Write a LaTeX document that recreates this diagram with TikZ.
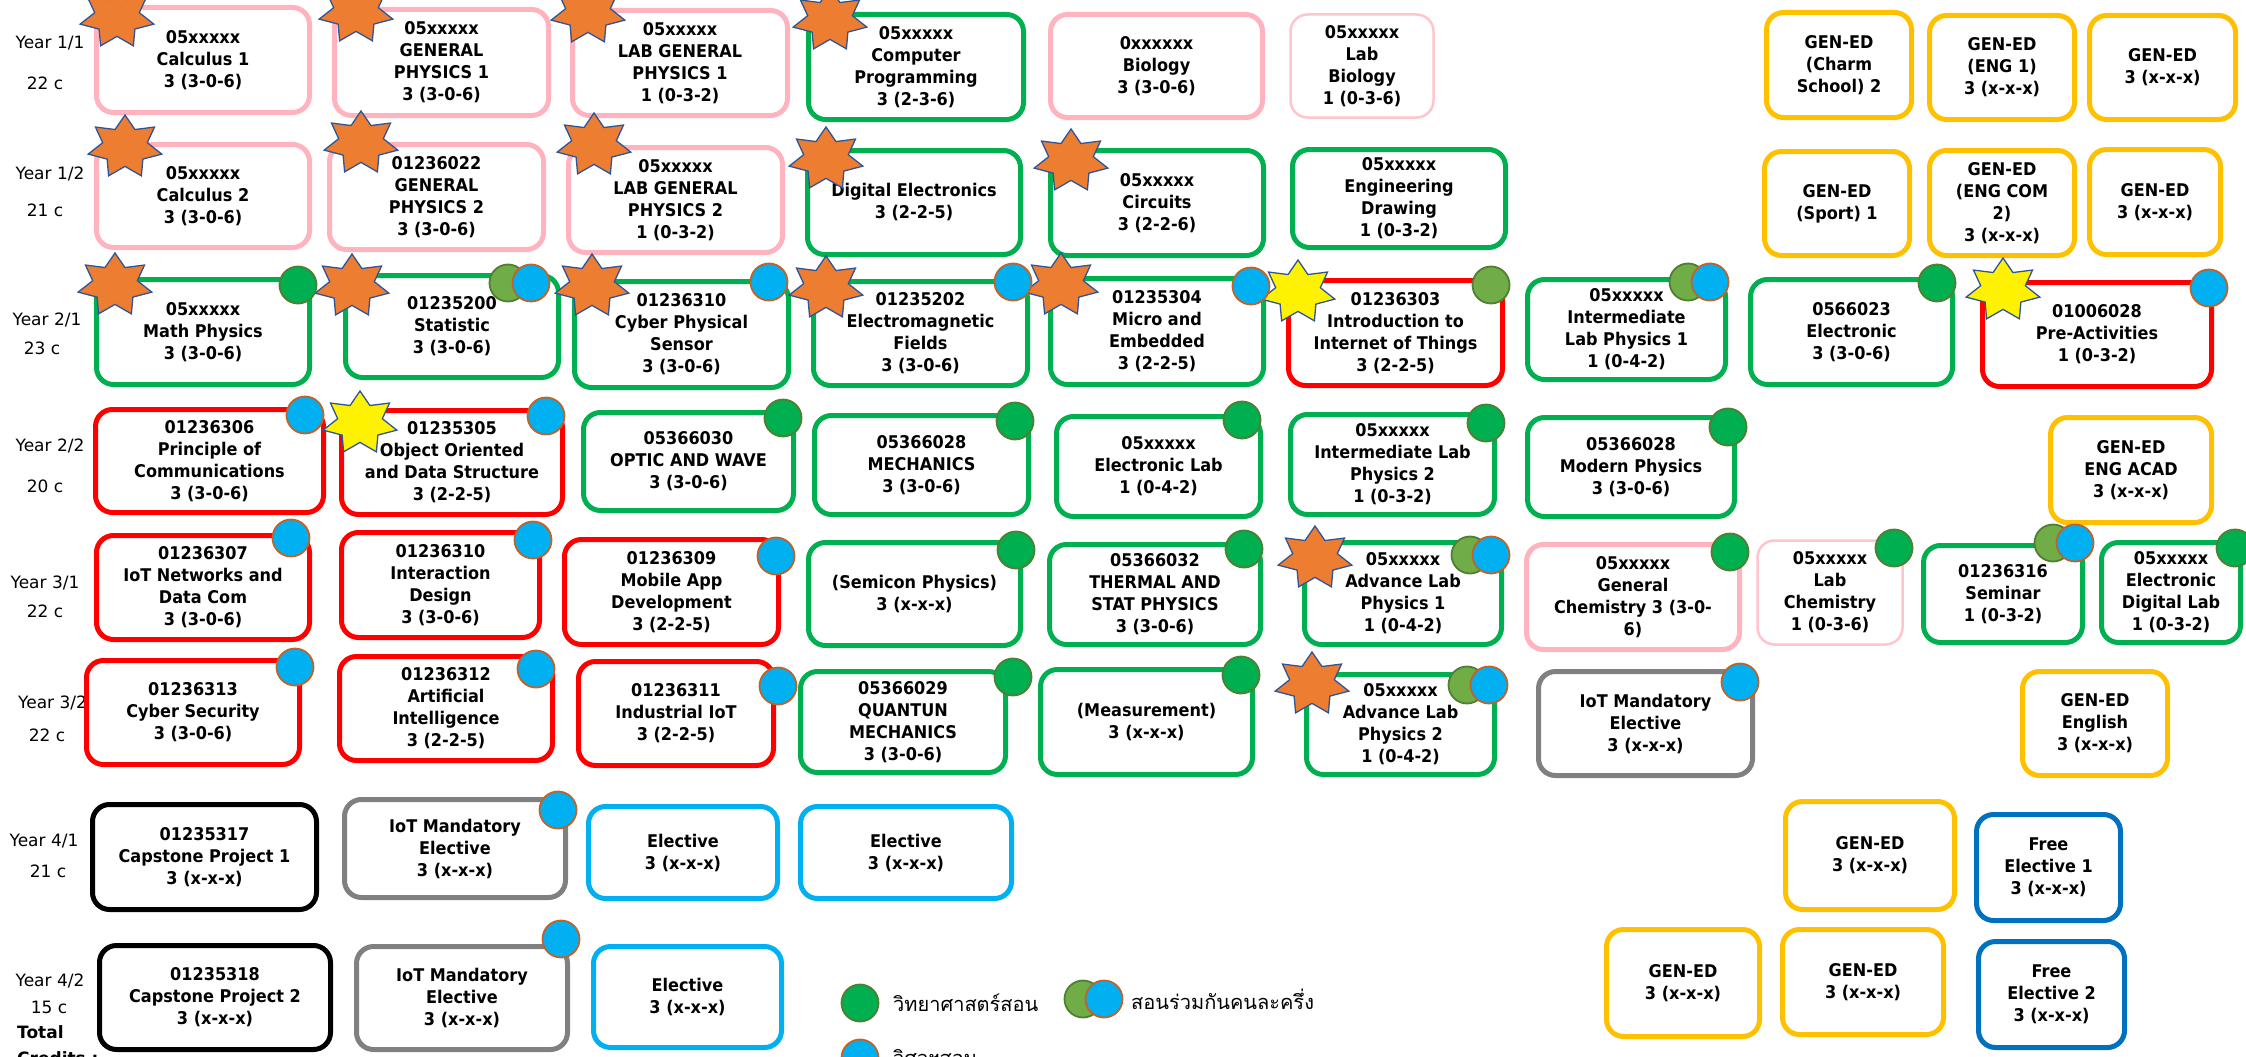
\documentclass[tikz,border=0pt]{standalone}
\usepackage{fontspec}
\setmainfont{DejaVu Sans}[FakeStretch=0.92]
\newfontfamily\lblfont{DejaVu Sans}
\newfontfamily\thaifont[Script=Thai]{Loma}
\usetikzlibrary{shapes.geometric}
\definecolor{cpink}{HTML}{FFB3BE}
\definecolor{cpinkl}{HTML}{FFC4CC}
\definecolor{cgreen}{HTML}{00B050}
\definecolor{cred}{HTML}{FF0000}
\definecolor{cgold}{HTML}{FFC000}
\definecolor{cgray}{HTML}{808080}
\definecolor{cltblue}{HTML}{00B0F0}
\definecolor{cdkblue}{HTML}{0070C0}
\definecolor{colive}{HTML}{70AD47}
\definecolor{colivedk}{HTML}{507E32}
\definecolor{cbrown}{HTML}{C0632A}
\definecolor{corange}{HTML}{ED7D31}
\definecolor{cstarb}{HTML}{2F5597}
\tikzset{
  crsbox/.style={rectangle, rounded corners=17pt, fill=white, line width=5pt, inner sep=0pt, align=center, font=\fontsize{17.5}{22}\selectfont\bfseries},
  pinkb/.style={crsbox, draw=cpink},
  pinkt/.style={crsbox, draw=cpinkl, line width=2.5pt},
  greenb/.style={crsbox, draw=cgreen},
  redb/.style={crsbox, draw=cred},
  goldb/.style={crsbox, draw=cgold},
  grayb/.style={crsbox, draw=cgray},
  blackb/.style={crsbox, draw=black},
  ltblueb/.style={crsbox, draw=cltblue},
  dkblueb/.style={crsbox, draw=cdkblue},
  dotbase/.style={circle, minimum size=37pt, inner sep=0pt, line width=1.8pt},
  gdot/.style={dotbase, fill=cgreen, draw=colivedk},
  bdot/.style={dotbase, fill=cltblue, draw=cbrown},
  odot/.style={dotbase, fill=colive, draw=colivedk},
  starbase/.style={star, star points=7, star point ratio=1.65, minimum size=64pt, inner sep=0pt, draw=cstarb, line width=1.3pt, transform shape},
  yearlbl/.style={font=\lblfont\fontsize{17}{21}\selectfont, inner sep=0pt},
  totlbl/.style={font=\lblfont\fontsize{17}{21}\selectfont\bfseries, inner sep=0pt, anchor=west},
  thailbl/.style={font=\thaifont\fontsize{20}{24}\selectfont, inner sep=0pt, anchor=west},
}
\newcommand\crs[7]{\node[#2, minimum width={#4-#3-5}, minimum height={#6-#5-5}] (#1) at ({(#3+#4)/2},{(#5+#6)/2}) {#7};}
\newcommand\starat[4]{\begin{scope}[shift={(#2,#3)}, xscale=1.18]\node[starbase, fill=#4] (#1) at (0,0) {};\end{scope}}
\begin{document}
\begin{tikzpicture}[x=1pt,y=-1pt]
\useasboundingbox (0,0) rectangle (2246,1057);
\clip (0,0) rectangle (2246,1057);
\fill[white] (0,0) rectangle (2246,1057);
% row labels
\node[yearlbl] (y11) at (50,43) {Year 1/1};
\node[yearlbl] (k11) at (45,83) {22 c};
\node[yearlbl] (y12) at (50,174) {Year 1/2};
\node[yearlbl] (k12) at (45,210) {21 c};
\node[yearlbl] (y21) at (47,320) {Year 2/1};
\node[yearlbl] (k21) at (42,348) {23 c};
\node[yearlbl] (y22) at (50,446) {Year 2/2};
\node[yearlbl] (k22) at (45,486) {20 c};
\node[yearlbl] (y31) at (45,583) {Year 3/1};
\node[yearlbl] (k31) at (45,611) {22 c};
\node[yearlbl, anchor=west] (y32) at (18,703) {Year 3/2};
\node[yearlbl] (k32) at (47,735) {22 c};
\node[yearlbl] (y41) at (44,841) {Year 4/1};
\node[yearlbl] (k41) at (48,871) {21 c};
\node[yearlbl] (y42) at (50,981) {Year 4/2};
\node[yearlbl] (k42) at (49,1007) {15 c};
\node[totlbl] (tot) at (17,1032) {Total};
\node[totlbl] (cred) at (17,1058) {Credits :};
% row 1
\crs{c11}{pinkb}{94}{312}{5}{115}{05xxxxx\\Calculus 1\\3 (3-0-6)}
\crs{c12}{pinkb}{332}{551}{7}{118}{05xxxxx\\GENERAL\\PHYSICS 1\\3 (3-0-6)}
\crs{c13}{pinkb}{570}{790}{8}{118}{05xxxxx\\LAB GENERAL\\PHYSICS 1\\1 (0-3-2)}
\crs{c14}{greenb}{806}{1026}{12}{122}{05xxxxx\\Computer\\Programming\\3 (2-3-6)}
\crs{c15}{pinkb}{1048}{1265}{12}{120}{0xxxxxx\\Biology\\3 (3-0-6)}
\crs{c16}{pinkt}{1288}{1436}{12}{120}{05xxxxx\\Lab\\Biology\\1 (0-3-6)}
\crs{c17}{goldb}{1764}{1914}{10}{120}{GEN-ED\\(Charm\\School) 2}
\crs{c18}{goldb}{1927}{2077}{13}{122}{GEN-ED\\(ENG 1)\\3 (x-x-x)}
\crs{c19}{goldb}{2087}{2238}{13}{122}{GEN-ED\\3 (x-x-x)}
% row 2
\crs{c21}{pinkb}{94}{312}{142}{250}{05xxxxx\\Calculus 2\\3 (3-0-6)}
\crs{c22}{pinkb}{327}{546}{142}{252}{01236022\\GENERAL\\PHYSICS 2\\3 (3-0-6)}
\crs{c23}{pinkb}{566}{785}{145}{255}{05xxxxx\\LAB GENERAL\\PHYSICS 2\\1 (0-3-2)}
\crs{c24}{greenb}{805}{1023}{148}{257}{Digital Electronics\\3 (2-2-5)}
\crs{c25}{greenb}{1048}{1266}{148}{258}{05xxxxx\\Circuits\\3 (2-2-6)}
\crs{c26}{greenb}{1290}{1508}{147}{250}{05xxxxx\\Engineering\\Drawing\\1 (0-3-2)}
\crs{c27}{goldb}{1762}{1912}{149}{258}{GEN-ED\\(Sport) 1}
\crs{c28}{goldb}{1927}{2077}{148}{258}{GEN-ED\\(ENG COM\\2)\\3 (x-x-x)}
\crs{c29}{goldb}{2087}{2223}{147}{257}{GEN-ED\\3 (x-x-x)}
% row 3
\crs{c31}{greenb}{94}{312}{277}{387}{05xxxxx\\Math Physics\\3 (3-0-6)}
\crs{c32}{greenb}{343}{561}{273}{380}{01235200\\Statistic\\3 (3-0-6)}
\crs{c33}{greenb}{572}{791}{279}{390}{01236310\\Cyber Physical\\Sensor\\3 (3-0-6)}
\crs{c34}{greenb}{811}{1030}{279}{388}{01235202\\Electromagnetic\\Fields\\3 (3-0-6)}
\crs{c35}{greenb}{1048}{1266}{276}{387}{01235304\\Micro and\\Embedded\\3 (2-2-5)}
\crs{c36}{redb}{1286}{1505}{278}{388}{01236303\\Introduction to\\Internet of Things\\3 (2-2-5)}
\crs{c37}{greenb}{1525}{1728}{277}{382}{05xxxxx\\Intermediate\\Lab Physics 1\\1 (0-4-2)}
\crs{c38}{greenb}{1748}{1955}{277}{387}{0566023\\Electronic\\3 (3-0-6)}
\crs{c39}{redb}{1980}{2214}{280}{389}{01006028\\Pre-Activities\\1 (0-3-2)}
% row 4
\crs{c41}{redb}{93}{326}{407}{515}{01236306\\Principle of\\Communications\\3 (3-0-6)}
\crs{c42}{redb}{339}{565}{408}{517}{01235305\\Object Oriented\\and Data Structure\\3 (2-2-5)}
\crs{c43}{greenb}{581}{796}{410}{513}{05366030\\OPTIC AND WAVE\\3 (3-0-6)}
\crs{c44}{greenb}{812}{1031}{413}{517}{05366028\\MECHANICS\\3 (3-0-6)}
\crs{c45}{greenb}{1054}{1263}{414}{519}{05xxxxx\\Electronic Lab\\1 (0-4-2)}
\crs{c46}{greenb}{1288}{1497}{412}{517}{05xxxxx\\Intermediate Lab\\Physics 2\\1 (0-3-2)}
\crs{c47}{greenb}{1525}{1737}{415}{519}{05366028\\Modern Physics\\3 (3-0-6)}
\crs{c48}{goldb}{2048}{2214}{415}{525}{GEN-ED\\ENG ACAD\\3 (x-x-x)}
% row 5
\crs{c51}{redb}{94}{312}{533}{642}{01236307\\IoT Networks and\\Data Com\\3 (3-0-6)}
\crs{c52}{redb}{339}{542}{530}{640}{01236310\\Interaction\\Design\\3 (3-0-6)}
\crs{c53}{redb}{562}{781}{537}{647}{01236309\\Mobile App\\Development\\3 (2-2-5)}
\crs{c54}{greenb}{806}{1023}{540}{648}{(Semicon Physics)\\3 (x-x-x)}
\crs{c55}{greenb}{1047}{1263}{542}{647}{05366032\\THERMAL AND\\STAT PHYSICS\\3 (3-0-6)}
\crs{c56}{greenb}{1302}{1504}{540}{647}{05xxxxx\\Advance Lab\\Physics 1\\1 (0-4-2)}
\crs{c57}{pinkb}{1524}{1742}{542}{652}{05xxxxx\\General\\Chemistry 3 (3-0-\\6)}
\crs{c58}{pinkt}{1755}{1905}{538}{647}{05xxxxx\\Lab\\Chemistry\\1 (0-3-6)}
\crs{c59}{greenb}{1921}{2085}{543}{645}{01236316\\Seminar\\1 (0-3-2)}
\crs{c5a}{greenb}{2099}{2243}{540}{645}{05xxxxx\\Electronic\\Digital Lab\\1 (0-3-2)}
% row 6
\crs{c61}{redb}{84}{302}{658}{767}{01236313\\Cyber Security\\3 (3-0-6)}
\crs{c62}{redb}{337}{555}{654}{763}{01236312\\Artificial\\Intelligence\\3 (2-2-5)}
\crs{c63}{redb}{576}{776}{659}{768}{01236311\\Industrial IoT\\3 (2-2-5)}
\crs{c64}{greenb}{798}{1008}{669}{775}{05366029\\QUANTUN\\MECHANICS\\3 (3-0-6)}
\crs{c65}{greenb}{1038}{1255}{667}{777}{(Measurement)\\3 (x-x-x)}
\crs{c66}{greenb}{1304}{1497}{672}{777}{05xxxxx\\Advance Lab\\Physics 2\\1 (0-4-2)}
\crs{c67}{grayb}{1536}{1755}{669}{778}{IoT Mandatory\\Elective\\3 (x-x-x)}
\crs{c68}{goldb}{2020}{2170}{669}{778}{GEN-ED\\English\\3 (x-x-x)}
% row 7
\crs{c71}{blackb}{90}{319}{802}{912}{01235317\\Capstone Project 1\\3 (x-x-x)}
\crs{c72}{grayb}{342}{568}{797}{900}{IoT Mandatory\\Elective\\3 (x-x-x)}
\crs{c73}{ltblueb}{586}{780}{804}{901}{Elective\\3 (x-x-x)}
\crs{c74}{ltblueb}{798}{1014}{804}{901}{Elective\\3 (x-x-x)}
\crs{c75}{goldb}{1783}{1957}{799}{912}{GEN-ED\\3 (x-x-x)}
\crs{c76}{dkblueb}{1974}{2123}{812}{923}{Free\\Elective 1\\3 (x-x-x)}
% row 8
\crs{c81}{blackb}{97}{333}{943}{1052}{01235318\\Capstone Project 2\\3 (x-x-x)}
\crs{c82}{grayb}{354}{570}{944}{1052}{IoT Mandatory\\Elective\\3 (x-x-x)}
\crs{c83}{ltblueb}{591}{784}{944}{1050}{Elective\\3 (x-x-x)}
\crs{c84}{goldb}{1604}{1762}{927}{1039}{GEN-ED\\3 (x-x-x)}
\crs{c85}{goldb}{1780}{1946}{927}{1037}{GEN-ED\\3 (x-x-x)}
\crs{c86}{dkblueb}{1976}{2127}{939}{1050}{Free\\Elective 2\\3 (x-x-x)}
% stars
\starat{s11}{117}{17}{corange}
\starat{s12}{356}{12}{corange}
\starat{s13}{588}{13}{corange}
\starat{s14}{830}{20}{corange}
\starat{s21}{125}{147}{corange}
\starat{s22}{361}{143}{corange}
\starat{s23}{594}{145}{corange}
\starat{s24}{826}{159}{corange}
\starat{s25}{1071}{161}{corange}
\starat{s31}{115}{285}{corange}
\starat{s32}{352}{286}{corange}
\starat{s33}{592}{286}{corange}
\starat{s34}{826}{288}{corange}
\starat{s35}{1061}{285}{corange}
\starat{s36}{1298}{292}{yellow}
\starat{s39}{2003}{290}{yellow}
\starat{s42}{360}{423}{yellow}
\starat{s56}{1315}{558}{corange}
\starat{s66}{1312}{684}{corange}
% dots
\node[gdot] (d31) at (298,285) {};
\node[odot] (d32o) at (508,283) {};
\node[bdot] (d32b) at (531,283) {};
\node[bdot] (d33) at (769,282) {};
\node[bdot] (d34) at (1013,282) {};
\node[bdot] (d35) at (1251,286) {};
\node[odot] (d36) at (1491,285) {};
\node[odot] (d37o) at (1688,282) {};
\node[bdot] (d37b) at (1710,282) {};
\node[gdot] (d38) at (1937,283) {};
\node[bdot] (d39) at (2209,288) {};
\node[bdot] (d41) at (305,415) {};
\node[bdot] (d42) at (546,416) {};
\node[gdot] (d43) at (783,418) {};
\node[gdot] (d44) at (1015,421) {};
\node[gdot] (d45) at (1242,420) {};
\node[gdot] (d46) at (1486,423) {};
\node[gdot] (d47) at (1728,427) {};
\node[bdot] (d51) at (291,538) {};
\node[bdot] (d52) at (533,540) {};
\node[bdot] (d53) at (776,556) {};
\node[gdot] (d54) at (1016,550) {};
\node[gdot] (d55) at (1244,549) {};
\node[odot] (d56o) at (1470,555) {};
\node[bdot] (d56b) at (1491,555) {};
\node[gdot] (d57) at (1730,552) {};
\node[gdot] (d58) at (1894,548) {};
\node[odot] (d59o) at (2053,543) {};
\node[bdot] (d59b) at (2075,543) {};
\node[gdot] (d5a) at (2235,548) {};
\node[bdot] (d61) at (295,667) {};
\node[bdot] (d62) at (536,669) {};
\node[bdot] (d63) at (778,686) {};
\node[gdot] (d64) at (1013,677) {};
\node[gdot] (d65) at (1241,675) {};
\node[odot] (d66o) at (1467,685) {};
\node[bdot] (d66b) at (1489,685) {};
\node[bdot] (d67) at (1740,682) {};
\node[bdot] (d72) at (558,810) {};
\node[bdot] (d82) at (561,939) {};
% legend
\node[gdot] (lg1) at (860,1003) {};
\node[thailbl] (lt1) at (893,1003) {วิทยาศาสตร์สอน};
\node[odot] (lg2o) at (1083,999) {};
\node[bdot] (lg2b) at (1104,999) {};
\node[thailbl] (lt2) at (1131,999) {สอนร่วมกันคนละครึ่ง};
\node[bdot] (lg3) at (860,1058) {};
\node[thailbl] (lt3) at (893,1058) {วิศวฯสอน};
\end{tikzpicture}
\end{document}
